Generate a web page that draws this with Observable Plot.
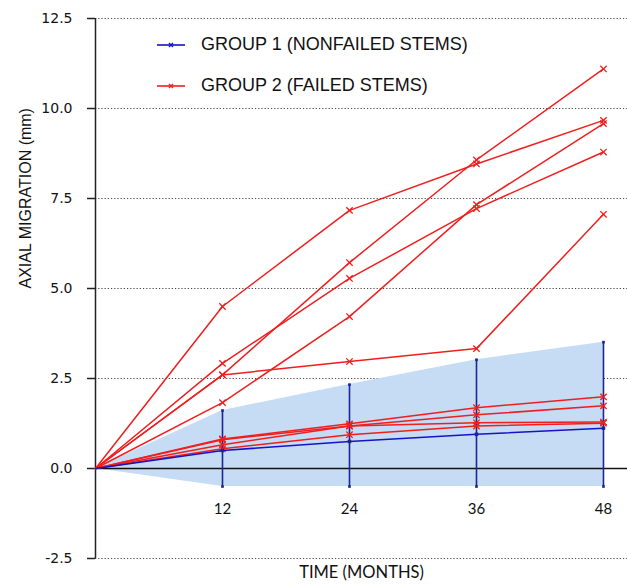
<!DOCTYPE html>
<html>
<head>
<meta charset="utf-8">
<script src="https://cdn.jsdelivr.net/npm/d3@7"></script>
<script src="https://cdn.jsdelivr.net/npm/@observablehq/plot@0.6"></script>
<style>
  html, body { margin: 0; padding: 0; background: #fff; }
  #wrap { position: relative; width: 627px; height: 585px; }
  #legend { position: absolute; left: 156px; top: 24px; font-family: "Liberation Sans", Arial, sans-serif; font-size: 18px; color: #111; }
  .item { display: flex; align-items: center; height: 41px; }
  .item svg { margin-right: 15px; }
</style>
</head>
<body>
<div id="wrap">
  <div id="chart"></div>
  <div id="legend"></div>
</div>
<script>
// Time points (months)
const months = [0, 12, 24, 36, 48];
const xTickLabels = [12, 24, 36, 48];
const yTicks = [-2.5, 0, 2.5, 5, 7.5, 10, 12.5];
const gridValues = [-2.5, 2.5, 5, 7.5, 10, 12.5];

// Group 1 (nonfailed stems): mean and error range
const group1Mean  = [0, 0.50, 0.75, 0.95, 1.12];
const group1Upper = [0, 1.61, 2.33, 3.02, 3.51];
const group1Lower = [0, -0.50, -0.50, -0.50, -0.50];

// Group 2 (failed stems): individual stems
const failed1 = [0, 4.50, 7.17, 8.46, 9.67];
const failed2 = [0, 2.60, 5.72, 8.57, 11.10];
const failed3 = [0, 2.92, 5.28, 7.22, 8.79];
const failed4 = [0, 1.83, 4.22, 7.33, 9.58];
const failed5 = [0, 2.60, 2.97, 3.33, 7.06];
const failed6 = [0, 0.82, 1.24, 1.69, 1.99];
const failed7 = [0, 0.80, 1.18, 1.49, 1.74];
const failed8 = [0, 0.66, 1.18, 1.27, 1.29];
const failed9 = [0, 0.55, 0.94, 1.18, 1.26];

const legendLabels = ["GROUP 1 (NONFAILED STEMS)", "GROUP 2 (FAILED STEMS)"];
const blue = "#1414c4";
const barBlue = "#1c2694";
const red = "#f01e1e";
const bandFill = "#c6dcf4";

const failedSeries = [failed1, failed2, failed3, failed4, failed5, failed6, failed7, failed8, failed9];
const redData = failedSeries.flatMap((vals, s) => vals.map((v, i) => ({stem: s, month: months[i], value: v})));
const g1 = months.map((m, i) => ({month: m, mean: group1Mean[i], lo: group1Lower[i], hi: group1Upper[i]}));
const g1Bars = g1.filter(d => d.month > 0);

const chart = Plot.plot({
  width: 627,
  height: 585,
  marginTop: 18,
  marginBottom: 27,
  marginLeft: 95,
  marginRight: 0,
  x: {domain: [0, 50.27], axis: null},
  y: {domain: [-2.5, 12.5], axis: null},
  marks: [
    Plot.ruleY(gridValues, {stroke: "#444", strokeWidth: 1, strokeDasharray: "1.2,2"}),
    Plot.areaY(g1, {x: "month", y1: "lo", y2: "hi", fill: bandFill, fillOpacity: 1}),
    Plot.ruleY([0], {stroke: "#111", strokeWidth: 1.5}),
    Plot.ruleX([0], {y1: -2.5, y2: 12.5, stroke: "#222", strokeWidth: 1.5}),
    Plot.axisY({ticks: yTicks, tickFormat: d => d.toFixed(1), tickSize: 8, tickPadding: 15, fontSize: 14, fontFamily: "DejaVu Sans", stroke: "#222", strokeWidth: 1.5, color: "#111", label: null}),
    Plot.text(xTickLabels, {x: d => d, frameAnchor: "bottom", dy: -45, text: d => String(d), fontSize: 15, fontFamily: "Lato", fill: "#111"}),
    Plot.text(["TIME (MONTHS)"], {frameAnchor: "bottom", dy: 19, text: d => d, fontSize: 16.5, fontFamily: "Lato", fill: "#111"}),
    Plot.text(["AXIAL MIGRATION (mm)"], {frameAnchor: "left", dx: -70, rotate: -90, text: d => d, fontSize: 16, fontFamily: "Liberation Sans", fill: "#111"}),
    Plot.ruleX(g1Bars, {x: "month", y1: "lo", y2: "hi", stroke: barBlue, strokeWidth: 1.6}),
    Plot.dot(g1Bars, {x: "month", y: "hi", r: 1.5, symbol: "square", fill: barBlue}),
    Plot.dot(g1Bars, {x: "month", y: "lo", r: 1.5, symbol: "square", fill: barBlue}),
    Plot.line(redData, {x: "month", y: "value", z: "stem", stroke: red, strokeWidth: 1.5}),
    Plot.dot(redData.filter(d => d.month > 0), {x: "month", y: "value", symbol: "times", r: 3, stroke: red, strokeWidth: 1.3}),
    Plot.line(g1, {x: "month", y: "mean", stroke: blue, strokeWidth: 1.5}),
    Plot.dot(g1.filter(d => d.month > 0), {x: "month", y: "mean", symbol: "square", r: 2, fill: barBlue})
  ]
});
document.getElementById("chart").appendChild(chart);

const legend = document.getElementById("legend");
[blue, red].forEach((c, i) => {
  const item = document.createElement("div");
  item.className = "item";
  item.innerHTML = `<svg width="30" height="10"><line x1="1" x2="29" y1="5" y2="5" stroke="${c}" stroke-width="1.6"/><path d="M13,3L17,7M17,3L13,7" stroke="${c}" stroke-width="1.4"/></svg><span>${legendLabels[i]}</span>`;
  legend.appendChild(item);
});
</script>
</body>
</html>
